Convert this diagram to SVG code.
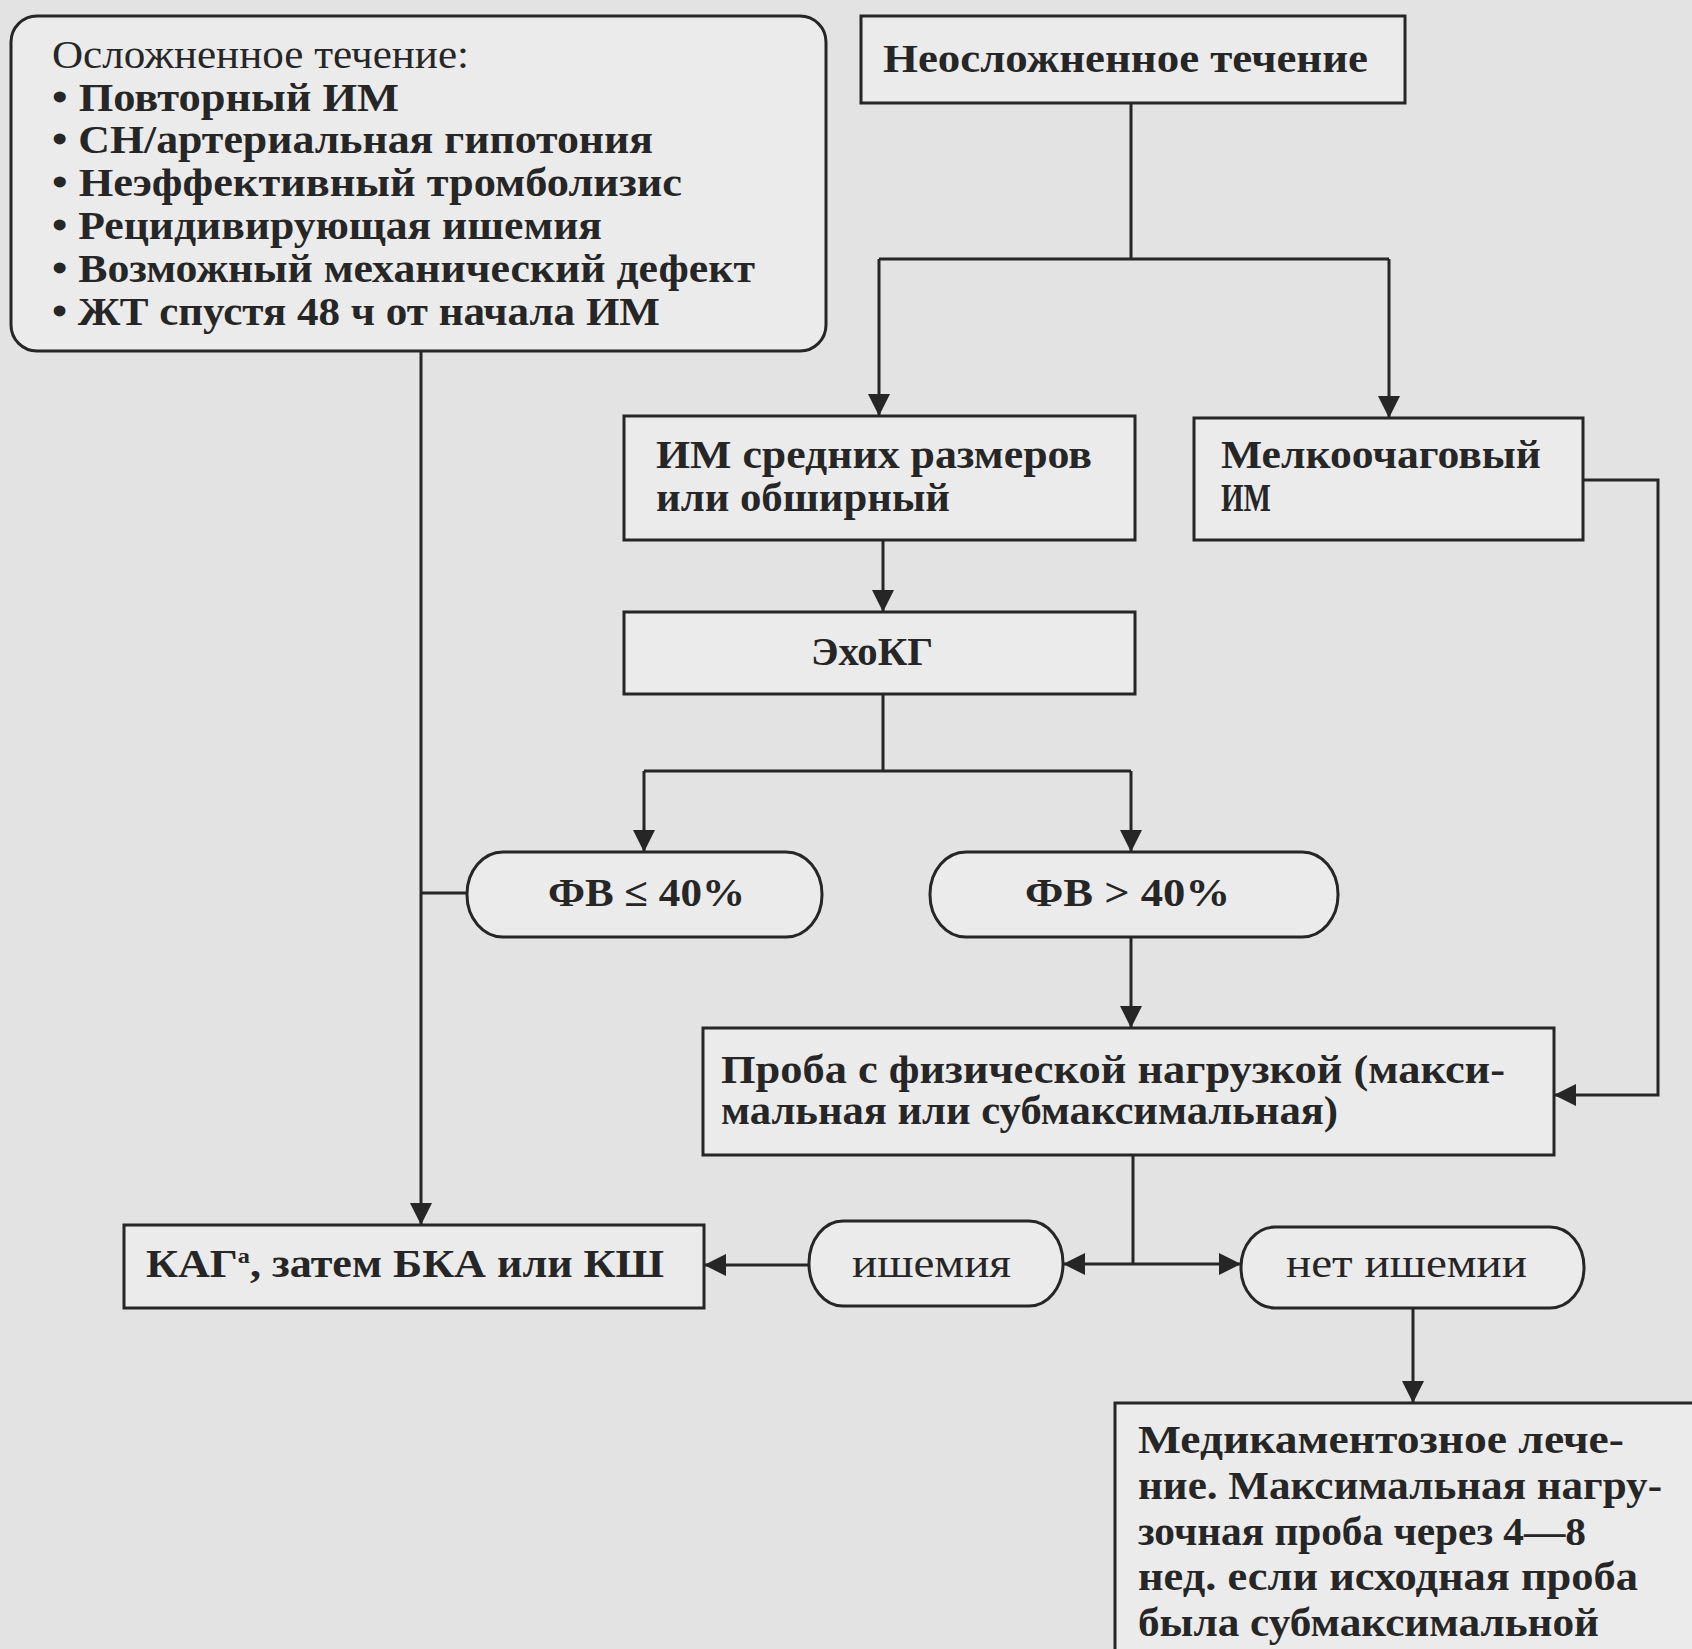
<svg xmlns="http://www.w3.org/2000/svg" width="1692" height="1649" viewBox="0 0 1692 1649">
  <style>
    .box { fill: #ebebeb; stroke: #262626; stroke-width: 3; }
    .ln { fill: none; stroke: #262626; stroke-width: 3; }
    .t { font-family: "Liberation Serif", "Times New Roman", serif; font-size: 40px; font-weight: bold; fill: #262626; }
    .tl { font-weight: normal; }
  </style>
  <defs>
    <marker id="arr" markerUnits="userSpaceOnUse" markerWidth="22" markerHeight="24" refX="22" refY="12" orient="auto">
      <path d="M0,1 L22,12 L0,23 Z" fill="#262626"/>
    </marker>
  </defs>
  <rect width="1692" height="1649" fill="#e3e3e3"/>

  <!-- connectors -->
  <g id="connectors">
    <path class="ln" d="M421,351 V1225" marker-end="url(#arr)"/>
    <path class="ln" d="M467,893 H421"/>
    <path class="ln" d="M1131,103 V259 M879,259 H1389"/>
    <path class="ln" d="M879,259 V416" marker-end="url(#arr)"/>
    <path class="ln" d="M1389,259 V418" marker-end="url(#arr)"/>
    <path class="ln" d="M883,540 V612" marker-end="url(#arr)"/>
    <path class="ln" d="M883,694 V771 M644,771 H1131"/>
    <path class="ln" d="M644,771 V852" marker-end="url(#arr)"/>
    <path class="ln" d="M1131,771 V852" marker-end="url(#arr)"/>
    <path class="ln" d="M1131,937 V1028" marker-end="url(#arr)"/>
    <path class="ln" d="M1583,480 H1658 V1095 H1554" marker-end="url(#arr)"/>
    <path class="ln" d="M1133,1155 V1264"/>
    <path class="ln" d="M1133,1264 H1063" marker-end="url(#arr)"/>
    <path class="ln" d="M1133,1264 H1241" marker-end="url(#arr)"/>
    <path class="ln" d="M809,1265 H704" marker-end="url(#arr)"/>
    <path class="ln" d="M1413,1308 V1403" marker-end="url(#arr)"/>
  </g>

  <!-- complicated course -->
  <g id="complicated">
    <rect class="box" x="11" y="16" width="815" height="335" rx="26" ry="26"/>
    <text class="t tl" x="52" y="68" textLength="417" lengthAdjust="spacingAndGlyphs">Осложненное течение:</text>
    <text class="t" x="52" y="111" textLength="347" lengthAdjust="spacingAndGlyphs">• Повторный ИМ</text>
    <text class="t" x="52" y="153" textLength="601" lengthAdjust="spacingAndGlyphs">• СН/артериальная гипотония</text>
    <text class="t" x="52" y="196" textLength="630" lengthAdjust="spacingAndGlyphs">• Неэффективный тромболизис</text>
    <text class="t" x="52" y="239" textLength="550" lengthAdjust="spacingAndGlyphs">• Рецидивирующая ишемия</text>
    <text class="t" x="52" y="282" textLength="703" lengthAdjust="spacingAndGlyphs">• Возможный механический дефект</text>
    <text class="t" x="52" y="325" textLength="608" lengthAdjust="spacingAndGlyphs">• ЖТ спустя 48 ч от начала ИМ</text>
  </g>

  <!-- uncomplicated course -->
  <g id="uncomplicated">
    <rect class="box" x="861" y="16" width="544" height="87"/>
    <text class="t" x="883" y="72" textLength="485" lengthAdjust="spacingAndGlyphs">Неосложненное течение</text>
  </g>

  <g id="large-mi">
    <rect class="box" x="624" y="416" width="511" height="124"/>
    <text class="t" x="656" y="468" textLength="436" lengthAdjust="spacingAndGlyphs">ИМ средних размеров</text>
    <text class="t" x="656" y="511" textLength="294" lengthAdjust="spacingAndGlyphs">или обширный</text>
  </g>

  <g id="small-mi">
    <rect class="box" x="1194" y="418" width="389" height="122"/>
    <text class="t" x="1221" y="468" textLength="320" lengthAdjust="spacingAndGlyphs">Мелкоочаговый</text>
    <text class="t" x="1221" y="511" textLength="50" lengthAdjust="spacingAndGlyphs">ИМ</text>
  </g>

  <g id="echo">
    <rect class="box" x="624" y="612" width="511" height="82"/>
    <text class="t" x="811" y="665" textLength="122" lengthAdjust="spacingAndGlyphs">ЭхоКГ</text>
  </g>

  <g id="ef-low">
    <rect class="box" x="467" y="852" width="355" height="85" rx="36" ry="42"/>
    <text class="t" x="548" y="906" textLength="197" lengthAdjust="spacingAndGlyphs">ФВ ≤ 40%</text>
  </g>

  <g id="ef-high">
    <rect class="box" x="930" y="852" width="408" height="85" rx="36" ry="42"/>
    <text class="t" x="1025" y="906" textLength="205" lengthAdjust="spacingAndGlyphs">ФВ &gt; 40%</text>
  </g>

  <g id="stress-test">
    <rect class="box" x="703" y="1028" width="851" height="127"/>
    <text class="t" x="721" y="1083" textLength="784" lengthAdjust="spacingAndGlyphs">Проба с физической нагрузкой (макси-</text>
    <text class="t" x="721" y="1124" textLength="617" lengthAdjust="spacingAndGlyphs">мальная или субмаксимальная)</text>
  </g>

  <g id="cag">
    <rect class="box" x="124" y="1225" width="580" height="83"/>
    <text class="t" x="146" y="1277" textLength="518" lengthAdjust="spacingAndGlyphs">КАГ<tspan font-size="22" dy="-14">а</tspan><tspan dy="14">, затем БКА или КШ</tspan></text>
  </g>

  <g id="ischemia">
    <rect class="box" x="809" y="1221" width="254" height="85" rx="34" ry="42"/>
    <text class="t tl" x="852" y="1277" textLength="159" lengthAdjust="spacingAndGlyphs">ишемия</text>
  </g>

  <g id="no-ischemia">
    <rect class="box" x="1241" y="1227" width="343" height="81" rx="34" ry="40"/>
    <text class="t tl" x="1286" y="1277" textLength="241" lengthAdjust="spacingAndGlyphs">нет ишемии</text>
  </g>

  <g id="medical">
    <rect class="box" x="1115" y="1403" width="600" height="270"/>
    <text class="t" x="1138" y="1453" textLength="486" lengthAdjust="spacingAndGlyphs">Медикаментозное лече-</text>
    <text class="t" x="1138" y="1499" textLength="524" lengthAdjust="spacingAndGlyphs">ние. Максимальная нагру-</text>
    <text class="t" x="1138" y="1545" textLength="448" lengthAdjust="spacingAndGlyphs">зочная проба через 4—8</text>
    <text class="t" x="1138" y="1590" textLength="500" lengthAdjust="spacingAndGlyphs">нед. если исходная проба</text>
    <text class="t" x="1138" y="1636" textLength="461" lengthAdjust="spacingAndGlyphs">была субмаксимальной</text>
  </g>
</svg>
